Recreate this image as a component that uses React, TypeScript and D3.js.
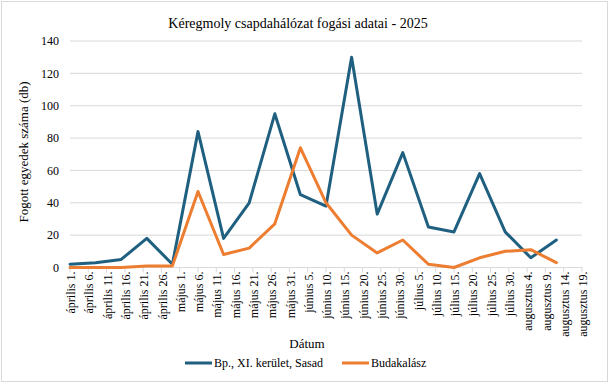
import React from "react";
import * as d3 from "d3";

const tickLabels = [
  "április 1.", "április 6.", "április 11.", "április 16.", "április 21.", "április 26.",
  "május 1.", "május 6.", "május 11.", "május 16.", "május 21.", "május 26.", "május 31.",
  "június 5.", "június 10.", "június 15.", "június 20.", "június 25.", "június 30.",
  "július 5.", "július 10.", "július 15.", "július 20.", "július 25.", "július 30.",
  "augusztus 4.", "augusztus 9.", "augusztus 14.", "augusztus 19.",
];
// tick dates (every 5 days from Apr 1 to Aug 19, 2025)
const tickDates = [
  "2025-04-01", "2025-04-06", "2025-04-11", "2025-04-16", "2025-04-21", "2025-04-26",
  "2025-05-01", "2025-05-06", "2025-05-11", "2025-05-16", "2025-05-21", "2025-05-26", "2025-05-31",
  "2025-06-05", "2025-06-10", "2025-06-15", "2025-06-20", "2025-06-25", "2025-06-30",
  "2025-07-05", "2025-07-10", "2025-07-15", "2025-07-20", "2025-07-25", "2025-07-30",
  "2025-08-04", "2025-08-09", "2025-08-14", "2025-08-19",
];
// weekly sample dates
const sampleDates = [
  "2025-04-01", "2025-04-08", "2025-04-15", "2025-04-22", "2025-04-29",
  "2025-05-06", "2025-05-13", "2025-05-20", "2025-05-27", "2025-06-03",
  "2025-06-10", "2025-06-17", "2025-06-24", "2025-07-01", "2025-07-08",
  "2025-07-15", "2025-07-22", "2025-07-29", "2025-08-05", "2025-08-12",
];
const sasad = [2, 3, 5, 18, 2, 84, 18, 40, 95, 45, 38, 130, 33, 71, 25, 22, 58, 22, 6, 17];
const budakalasz = [0, 0, 0, 1, 1, 47, 8, 12, 27, 74, 40, 20, 9, 17, 2, 0, 6, 10, 11, 3];
const yTicks = [0, 20, 40, 60, 80, 100, 120, 140];

const seriesNames = ["Bp., XI. kerület, Sasad", "Budakalász"];
const colors = ["#1f5f80", "#ed7d31"];

const W = 610;
const H = 386;
const FONT = "Liberation Serif";

export default function App() {
  const parse = (s: string) => new Date(s + "T00:00:00Z");
  const x = d3
    .scaleUtc()
    .domain([parse(tickDates[0]), parse(tickDates[tickDates.length - 1])])
    .range([70, 582]);
  const y = d3.scaleLinear().domain([0, 140]).range([267.5, 41]);

  const line = d3
    .line<[Date, number]>()
    .x((d) => x(d[0]))
    .y((d) => y(d[1]));

  const allSeries = [sasad, budakalasz].map((vals) =>
    vals.map((v, i) => [parse(sampleDates[i]), v] as [Date, number])
  );

  return (
    <svg
      width={W}
      height={H}
      fontFamily={FONT}
      style={{ position: "absolute", left: 0, top: 0 }}
    >
      <rect x={0} y={0} width={W} height={H} fill="#fff" />
      <rect x={1.5} y={1.5} width={606} height={380} fill="none" stroke="#d9d9d9" />
      <text x={298} y={28} textAnchor="middle" fontSize={14} fontFamily={FONT} fill="#000">
        Kéregmoly csapdahálózat fogási adatai - 2025
      </text>
      {yTicks.map((t) => (
        <g key={t}>
          {t !== 0 && (
            <line x1={70} x2={582} y1={y(t)} y2={y(t)} stroke="#d9d9d9" strokeWidth={1} />
          )}
          <text x={59} y={y(t)} dy="0.35em" textAnchor="end" fontSize={12} fontFamily={FONT} fill="#000">
            {t}
          </text>
        </g>
      ))}
      <line x1={70} x2={582} y1={y(0)} y2={y(0)} stroke="#d9d9d9" strokeWidth={1} />
      {tickDates.map((d, i) => {
        const px = x(parse(d));
        return (
          <g key={d}>
            <line x1={px} x2={px} y1={y(0)} y2={y(0) + 5} stroke="#d9d9d9" />
            <text
              transform={`translate(${px + 1},${y(0) + 4}) rotate(-90)`}
              textAnchor="end"
              dy="0.35em"
              fontSize={12}
              fontFamily={FONT}
              fill="#000"
            >
              {tickLabels[i]}
            </text>
          </g>
        );
      })}
      <text
        transform={`translate(28,152) rotate(-90)`}
        textAnchor="middle"
        fontSize={13}
        fontFamily={FONT}
        fill="#000"
      >
        Fogott egyedek száma (db)
      </text>
      <text x={307} y={348} textAnchor="middle" fontSize={13} fontFamily={FONT} fill="#000">
        Dátum
      </text>
      {allSeries.map((s, i) => (
        <path
          key={i}
          d={line(s) || ""}
          fill="none"
          stroke={colors[i]}
          strokeWidth={3}
          strokeLinejoin="round"
          strokeLinecap="round"
        />
      ))}
      {seriesNames.map((n, i) => {
        const lx = i === 0 ? 185 : 342;
        return (
          <g key={n}>
            <line x1={lx} x2={lx + 27} y1={363} y2={363} stroke={colors[i]} strokeWidth={3} />
            <text x={lx + 29} y={363} dy="0.35em" fontSize={12} fontFamily={FONT} fill="#000">
              {n}
            </text>
          </g>
        );
      })}
    </svg>
  );
}
